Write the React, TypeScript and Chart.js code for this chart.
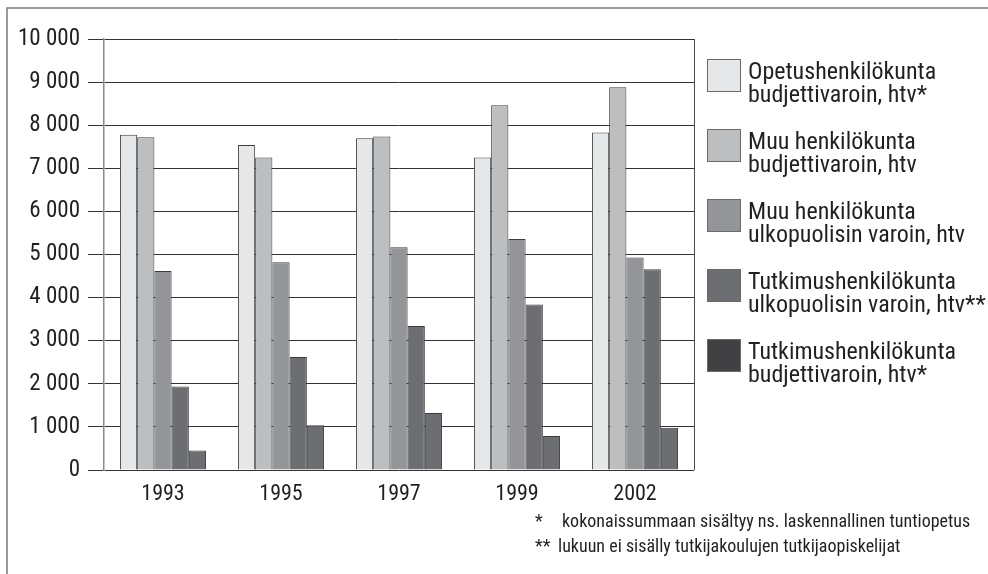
import React, { useEffect, useRef } from "react";
import { Chart, registerables } from "chart.js";

Chart.register(...registerables);

const YEARS = ["1993", "1995", "1997", "1999", "2002"];
const OPETUS_BUDJETTI = [7780, 7540, 7700, 7250, 7830];
const MUU_BUDJETTI = [7720, 7250, 7740, 8460, 8880];
const MUU_ULKO = [4620, 4820, 5170, 5360, 4930];
const TUTKIMUS_ULKO = [1935, 2620, 3340, 3840, 4660];
const TUTKIMUS_BUDJETTI = [450, 1040, 1320, 790, 980];

const SERIES_LABELS = [
  ["Opetushenkilökunta", "budjettivaroin, htv*"],
  ["Muu henkilökunta", "budjettivaroin, htv"],
  ["Muu henkilökunta", "ulkopuolisin varoin, htv"],
  ["Tutkimushenkilökunta", "ulkopuolisin varoin, htv**"],
  ["Tutkimushenkilökunta", "budjettivaroin, htv*"],
];
const BAR_COLORS = ["#e6e7e8", "#bcbec0", "#939598", "#6d6e71", "#6d6e71"];
const LEGEND_COLORS = ["#e6e7e8", "#bcbec0", "#939598", "#6d6e71", "#414042"];

const Y_TICK_LABELS = ["0", "1 000", "2 000", "3 000", "4 000", "5 000", "6 000", "7 000", "8 000", "9 000", "10 000"];

const FOOTNOTES = [
  ["*", "kokonaissummaan sisältyy ns. laskennallinen tuntiopetus"],
  ["**", "lukuun ei sisälly tutkijakoulujen tutkijaopiskelijat"],
];

const FONT = '"Roboto Condensed", "Liberation Sans", sans-serif';
const TEXT_COLOR = "#231f20";

const decorPlugin = {
  id: "decor",
  beforeDraw(chart: any) {
    const ctx = chart.ctx;
    ctx.save();
    ctx.strokeStyle = "#7a7a7a";
    ctx.lineWidth = 1.5;
    ctx.beginPath();
    ctx.moveTo(7, 574);
    ctx.lineTo(7, 8);
    ctx.lineTo(988, 8);
    ctx.stroke();
    ctx.restore();
  },
  afterDraw(chart: any) {
    const ctx = chart.ctx;
    const area = chart.chartArea;
    ctx.save();
    // right border of plot
    ctx.strokeStyle = "#4a4a4a";
    ctx.lineWidth = 1;
    ctx.beginPath();
    ctx.moveTo(Math.round(area.right) + 0.5, area.top);
    ctx.lineTo(Math.round(area.right) + 0.5, area.bottom);
    ctx.stroke();

    // legend
    const lx = area.right + 13;
    chart.data.datasets.forEach((ds: any, i: number) => {
      const y0 = 59 + 70 * i;
      ctx.fillStyle = LEGEND_COLORS[i];
      ctx.fillRect(lx + 0.5, y0 + 0.5, 33, 32);
      ctx.strokeStyle = "#6a6a6a";
      ctx.lineWidth = 1;
      ctx.strokeRect(lx + 0.5, y0 + 0.5, 33, 32);
      ctx.fillStyle = TEXT_COLOR;
      ctx.font = `24px ${FONT}`;
      ctx.textAlign = "left";
      ctx.textBaseline = "alphabetic";
      SERIES_LABELS[i].forEach((line, j) => {
        ctx.fillText(line, lx + 41, y0 + 20 + 23 * j);
      });
    });

    // footnotes
    ctx.font = `18px ${FONT}`;
    ctx.fillStyle = TEXT_COLOR;
    FOOTNOTES.forEach((fn, i) => {
      const by = 527 + 25 * i;
      ctx.fillText(fn[0], 535, by);
      ctx.fillText(fn[1], i === 0 ? 562 : 558, by);
    });
    ctx.restore();
  },
};

export default function App() {
  const ref = useRef<HTMLCanvasElement | null>(null);

  useEffect(() => {
    if (!ref.current) return;
    const series = [OPETUS_BUDJETTI, MUU_BUDJETTI, MUU_ULKO, TUTKIMUS_ULKO, TUTKIMUS_BUDJETTI];
    const chart = new Chart(ref.current, {
      type: "bar",
      data: {
        labels: YEARS,
        datasets: series.map((data, i) => ({
          label: SERIES_LABELS[i].join(" "),
          data,
          backgroundColor: BAR_COLORS[i],
          borderColor: "#3d3d3d",
          borderWidth: 1,
          categoryPercentage: 0.73,
          barPercentage: 1.0,
        })),
      },
      options: {
        responsive: false,
        animation: false,
        layout: { padding: { top: 39, right: 294, left: 0, bottom: 0 } },
        plugins: {
          legend: { display: false },
          tooltip: { enabled: false },
          title: { display: false },
        },
        scales: {
          x: {
            grid: { display: false },
            border: { display: false },
            ticks: {
              padding: 3,
              color: TEXT_COLOR,
              font: { family: FONT, size: 22 },
            },
            afterFit(scale: any) {
              scale.height = 104;
            },
          },
          y: {
            min: 0,
            max: 10000,
            grid: {
              color: "#333333",
              lineWidth: 1,
              tickLength: 16,
              drawTicks: true,
            },
            border: { color: "#8a8a8a", width: 1.5 },
            ticks: {
              stepSize: 1000,
              padding: 8,
              color: TEXT_COLOR,
              font: { family: FONT, size: 23 },
              callback: (_v: any, idx: number) => Y_TICK_LABELS[idx],
            },
            afterFit(scale: any) {
              scale.width = 104;
            },
          },
        },
      },
      plugins: [decorPlugin],
    });
    return () => chart.destroy();
  }, []);

  return (
    <div style={{ position: "absolute", left: 0, top: 0, width: 988, height: 574, background: "#fff" }}>
      <canvas ref={ref} width={988} height={574} style={{ display: "block" }} />
    </div>
  );
}
